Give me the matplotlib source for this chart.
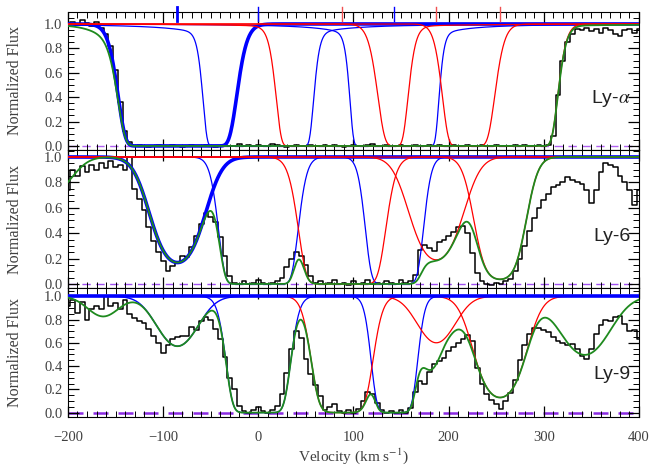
import matplotlib
matplotlib.use("Agg")
import matplotlib.pyplot as plt
import numpy as np
from matplotlib.ticker import MultipleLocator, FormatStrFormatter

plt.rcParams["font.family"] = ["Liberation Serif", "DejaVu Serif"]
plt.rcParams["mathtext.fontset"] = "stix"

# observed spectra, sampled every 5 km/s from -200 to 400
VEL = np.arange(-200, 401, 5)

LYA_FLUX = [
    1.00, 1.02, 0.99, 1.03, 1.01, 0.98, 1.02, 0.97, 0.92, 0.82,
    0.62, 0.36, 0.12, 0.03, 0.00, 0.01, 0.00, -0.01, 0.00, 0.01,
    0.00, 0.00, 0.01, 0.00, -0.01, 0.00, 0.01, 0.00, 0.00, 0.01,
    0.00, -0.01, 0.00, 0.01, 0.00, 0.00, 0.02, 0.00, 0.01, 0.00,
    0.01, 0.00, 0.00, 0.02, 0.01, 0.00, -0.01, 0.00, 0.01, 0.00,
    0.00, 0.01, 0.00, 0.00, 0.01, 0.00, 0.01, 0.00, -0.01, 0.00,
    0.01, 0.00, 0.00, 0.01, 0.02, 0.00, 0.00, 0.01, 0.00, 0.00,
    0.01, 0.00, 0.00, 0.01, 0.00, 0.00, 0.01, 0.00, 0.01, 0.00,
    0.00, 0.01, 0.00, 0.00, 0.01, 0.00, 0.00, 0.01, 0.00, 0.00,
    0.01, 0.00, 0.00, 0.00, 0.01, 0.00, 0.01, 0.00, 0.00, 0.01,
    0.00, 0.01, 0.08, 0.42, 0.70, 0.85, 0.92, 0.96, 0.95, 0.97,
    0.94, 0.96, 0.93, 0.97, 0.95, 0.92, 0.90, 0.95, 0.96, 0.93,
    0.96,
]

LY6_FLUX = [
    0.74, 0.90, 0.85, 0.93, 0.88, 0.94, 0.90, 0.95, 0.91, 0.97,
    0.92, 0.94, 0.90, 1.00, 0.75, 0.67, 0.58, 0.45, 0.34, 0.25,
    0.18, 0.10, 0.14, 0.17, 0.22, 0.21, 0.29, 0.38, 0.47, 0.56,
    0.53, 0.49, 0.37, 0.22, 0.06, 0.01, 0.00, 0.02, 0.00, 0.01,
    0.03, 0.01, 0.00, 0.01, 0.02, 0.05, 0.13, 0.20, 0.25, 0.22,
    0.15, 0.06, 0.01, 0.02, 0.00, 0.01, 0.03, 0.00, 0.01, -0.01,
    0.02, 0.00, 0.01, 0.03, 0.00, 0.01, 0.00, 0.02, 0.01, 0.00,
    0.03, 0.01, 0.02, 0.07, 0.27, 0.31, 0.28, 0.26, 0.33, 0.35,
    0.38, 0.41, 0.45, 0.46, 0.40, 0.24, 0.09, 0.02, 0.00, -0.01,
    0.01, 0.00, 0.02, 0.04, 0.10, 0.20, 0.30, 0.42, 0.52, 0.60,
    0.66, 0.71, 0.76, 0.78, 0.80, 0.84, 0.82, 0.80, 0.79, 0.74,
    0.64, 0.74, 0.88, 0.95, 0.94, 0.92, 0.85, 0.80, 0.74, 0.62,
    0.74,
]

LY9_FLUX = [
    0.92, 0.97, 0.86, 0.95, 0.80, 0.89, 0.92, 0.89, 1.00, 0.92,
    0.94, 0.89, 0.97, 0.85, 0.81, 0.79, 0.77, 0.72, 0.66, 0.60,
    0.51, 0.58, 0.63, 0.65, 0.66, 0.66, 0.74, 0.71, 0.79, 0.82,
    0.80, 0.72, 0.63, 0.48, 0.30, 0.20, 0.06, 0.01, 0.00, 0.02,
    0.05, 0.01, 0.00, 0.02, 0.06, 0.16, 0.34, 0.55, 0.70, 0.64,
    0.46, 0.33, 0.24, 0.14, 0.02, 0.05, 0.07, 0.01, 0.00, 0.02,
    0.00, 0.03, 0.10, 0.18, 0.16, 0.08, 0.02, 0.00, 0.01, 0.00,
    0.02, 0.00, 0.04, 0.18, 0.27, 0.25, 0.35, 0.42, 0.44, 0.47,
    0.53, 0.56, 0.60, 0.63, 0.67, 0.62, 0.38, 0.25, 0.16, 0.11,
    0.07, 0.03, 0.10, 0.17, 0.28, 0.45, 0.58, 0.68, 0.73, 0.73,
    0.71, 0.69, 0.65, 0.62, 0.60, 0.58, 0.59, 0.55, 0.49, 0.46,
    0.55, 0.68, 0.75, 0.80, 0.79, 0.82, 0.83, 0.76, 0.70, 0.71,
    0.63,
]

# fitted absorption components (velocity, colour), shared by all panels
COMP_V = [-85, 0, 143, 88, 187, 254]
COMP_COLOR = ["#0000ff", "#0000ff", "#0000ff", "#ff0000", "#ff0000", "#ff0000"]

# per-transition Doppler widths, central optical depths, damping strength
LYA_B = [29, 21, 17.6, 26, 28, 26]
LYA_TAU = [90, 1857, 1006, 1078, 109, 204]
LYA_DAMP = [0, 340, 247, 140, 0, 0]

LY6_B = [28, 22, 18, 25.4, 28, 22]
LY6_TAU = [1.78, 31.6, 14.8, 22.0, 1.66, 3.3]
LY6_DAMP = [0, 0, 0, 0, 0, 0]

LY9_B = [27, 20, 15.5, 21, 25, 26]
LY9_TAU = [0.56, 14.8, 9.7, 8.7, 0.51, 2.04]
LY9_DAMP = [0, 0, 0, 0, 0, 0]

# extra blends that only enter the total (green) model
LYA_EXTRA_V, LYA_EXTRA_B, LYA_EXTRA_TAU = [-150], [30], [0.08]
LY6_EXTRA_V, LY6_EXTRA_B, LY6_EXTRA_TAU = [-215], [25], [0.315]
LY9_EXTRA_V, LY9_EXTRA_B, LY9_EXTRA_TAU = [-163, 180, 343], [22, 12, 32], [0.19, 0.5, 0.7]

LABELS = ["Ly-$\\alpha$", "Ly-6", "Ly-9"]


def profile(v, v0, b, tau0, damp=0.0):
    x = v - v0
    tau = tau0 * np.exp(-(x / b) ** 2) + damp / (x ** 2 + b ** 2)
    return np.exp(-tau)


fig = plt.figure(figsize=(6.6, 4.69), dpi=100)

boxes = [
    [0.1030, 0.6802, 0.8652, 0.2942],
    [0.1030, 0.3853, 0.8652, 0.2949],
    [0.1030, 0.1115, 0.8652, 0.2738],
]
ylims = [(-0.033, 1.098), (-0.034, 1.055), (-0.035, 1.069)]
label_y = [0.39, 0.37, 0.33]
dash_style = [("#b062f0", 1.0), ("#a050f0", 1.0), ("#8a2be2", 1.8)]
thick0 = [2.6, 2.6, 1.0]

panels = [
    (LYA_FLUX, LYA_B, LYA_TAU, LYA_DAMP, LYA_EXTRA_V, LYA_EXTRA_B, LYA_EXTRA_TAU),
    (LY6_FLUX, LY6_B, LY6_TAU, LY6_DAMP, LY6_EXTRA_V, LY6_EXTRA_B, LY6_EXTRA_TAU),
    (LY9_FLUX, LY9_B, LY9_TAU, LY9_DAMP, LY9_EXTRA_V, LY9_EXTRA_B, LY9_EXTRA_TAU),
]

grid = np.linspace(-200, 400, 1201)

for k, (flux, bs, taus, damps, ev, eb, et) in enumerate(panels):
    ax = fig.add_axes(boxes[k])

    ax.plot(VEL, flux, drawstyle="steps-mid", color="black", lw=1.1, zorder=2)
    dc, dlw = dash_style[k]
    ax.axhline(0.0, color=dc, lw=dlw, ls=(0, (6, 4)), zorder=1)

    total = np.ones_like(grid)
    for i, (v0, c) in enumerate(zip(COMP_V, COMP_COLOR)):
        p = profile(grid, v0, bs[i], taus[i], damps[i])
        total *= p
        lw = thick0[k] if i == 0 else 0.9
        ax.plot(grid, p, color=c, lw=lw, zorder=3)
    if k == 2:
        ax.axhline(1.0, color="#0000ff", lw=2.6, zorder=3)
    for v0, b, t in zip(ev, eb, et):
        total *= profile(grid, v0, b, t)
    ax.plot(grid, total, color="#1e8a1e", lw=1.3, zorder=4)

    if k == 0:
        for i, (v0, c) in enumerate(zip(COMP_V, COMP_COLOR)):
            tc = "#0000ff" if c == "#0000ff" else "#f05050"
            ax.plot([v0, v0], [1.025, 1.14], color=tc, lw=2.0 if i == 0 else 1.0,
                    clip_on=False, zorder=5)

    ax.set_xlim(-200, 400)
    ax.set_ylim(*ylims[k])
    ax.xaxis.set_major_locator(MultipleLocator(100))
    ax.xaxis.set_minor_locator(MultipleLocator(10))
    ax.yaxis.set_major_locator(MultipleLocator(0.2))
    ax.yaxis.set_minor_locator(MultipleLocator(0.05))
    ax.yaxis.set_major_formatter(FormatStrFormatter("%.1f"))
    ax.tick_params(which="both", direction="in", top=True, right=True,
                   labelsize=10.5, labelcolor="#404040")
    ax.tick_params(which="major", length=8, width=0.9)
    ax.tick_params(which="minor", length=4, width=0.7)
    ax.tick_params(axis="x", pad=10)
    ax.tick_params(axis="y", pad=4)
    if k < 2:
        ax.tick_params(axis="x", labelbottom=False)
    else:
        ax.set_xlabel("Velocity (km s$^{-1}$)", fontsize=11, color="#404040", labelpad=2)

    ax.set_ylabel("Normalized Flux", fontsize=11.5, color="#404040")
    ax.yaxis.set_label_coords(-0.079, 0.5)
    ax.text(391, label_y[k], LABELS[k], ha="right", va="center", fontsize=14,
            family=["Liberation Sans", "DejaVu Sans"], color="#222222", zorder=6)

fig.savefig("out.png", dpi=100)
